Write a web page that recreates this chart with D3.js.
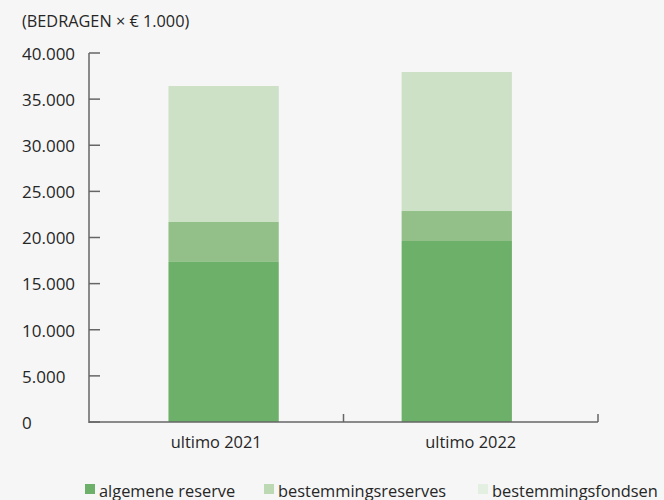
<!DOCTYPE html>
<html><head><meta charset="utf-8">
<script src="https://cdn.jsdelivr.net/npm/d3@7"></script>
<style>
html,body{margin:0;padding:0;background:#f6f6f6;}
svg{display:block;font-family:"Open Sans",sans-serif;}
</style></head>
<body><svg id="c" width="664" height="500"></svg>
<script>
const categories = ["ultimo 2021", "ultimo 2022"];
const seriesNames = ["algemene reserve", "bestemmingsreserves", "bestemmingsfondsen"];
const algemeneReserve = [17350, 19620];
const bestemmingsreserves = [4330, 3250];
const bestemmingsfondsen = [14740, 15070];
const yTicks = [0, 5000, 10000, 15000, 20000, 25000, 30000, 35000, 40000];
const colors = ["#6db06a", "#92c088", "#cde1c6"];
const legendColors = ["#6db06a", "#bcd9b4", "#e3efe0"];

const svg = d3.select("#c");
const x0 = 89, x1 = 598, yBase = 422, yTop = 53;
const y = d3.scaleLinear().domain([0, 40000]).range([yBase, yTop]);
const xAxisScale = d3.scaleBand().domain(categories).range([x0, x1]);
const xBar = d3.scaleBand().domain(categories).range([x0, x1]).paddingInner(0.527).paddingOuter(0.355).align(0.48);

const table = categories.map((c, i) => ({cat: c, a: algemeneReserve[i], b: bestemmingsreserves[i], f: bestemmingsfondsen[i]}));
const stack = d3.stack().keys(["a", "b", "f"])(table);

svg.append("g").selectAll("g").data(stack).join("g")
  .attr("fill", (d, i) => colors[i])
  .selectAll("rect").data(d => d).join("rect")
  .attr("x", d => xBar(d.data.cat))
  .attr("width", xBar.bandwidth())
  .attr("y", d => y(d[1]))
  .attr("height", d => y(d[0]) - y(d[1]));

const txt = "#262626";
// title
svg.append("text").attr("x", 22).attr("y", 27).attr("font-size", 16.3).attr("fill", txt)
  .text("(BEDRAGEN × € 1.000)");

// y axis
const axisColor = "#666";
svg.append("line").attr("x1", x0).attr("x2", x0).attr("y1", y(40000)).attr("y2", yBase + 1)
  .attr("stroke", axisColor).attr("stroke-width", 1.5);
const yt = svg.append("g").selectAll("g").data(yTicks).join("g");
yt.append("line").attr("x1", x0).attr("x2", x0 + 11).attr("y1", d => y(d)).attr("y2", d => y(d))
  .attr("stroke", axisColor).attr("stroke-width", 1.5);
yt.append("text").attr("x", 22).attr("y", d => y(d)).attr("dy", "0.4em")
  .attr("font-size", 17).attr("fill", txt)
  .text(d => d === 0 ? "0" : d3.format(",")(d).replace(/,/g, "."));

// x axis
svg.append("line").attr("x1", x0).attr("x2", x1).attr("y1", yBase).attr("y2", yBase)
  .attr("stroke", axisColor).attr("stroke-width", 1.5);
const bounds = categories.map(c => xAxisScale(c) + xAxisScale.bandwidth());
svg.append("g").selectAll("line").data(bounds).join("line")
  .attr("x1", d => d).attr("x2", d => d).attr("y1", yBase - 8).attr("y2", yBase)
  .attr("stroke", axisColor).attr("stroke-width", 1.5);
svg.append("g").selectAll("text").data(categories).join("text")
  .attr("x", d => xAxisScale(d) + xAxisScale.bandwidth() / 2).attr("y", 448)
  .attr("text-anchor", "middle").attr("font-size", 16.4).attr("fill", txt).text(d => d);

// legend
const legendX = [85, 264, 478];
const lg = svg.append("g").selectAll("g").data(seriesNames).join("g")
  .attr("transform", (d, i) => `translate(${legendX[i]},484)`);
lg.append("rect").attr("width", 10).attr("height", 10).attr("fill", (d, i) => legendColors[i]);
lg.append("text").attr("x", 14).attr("y", 12.5).attr("font-size", 16.4).attr("fill", txt).text(d => d);
</script></body></html>
